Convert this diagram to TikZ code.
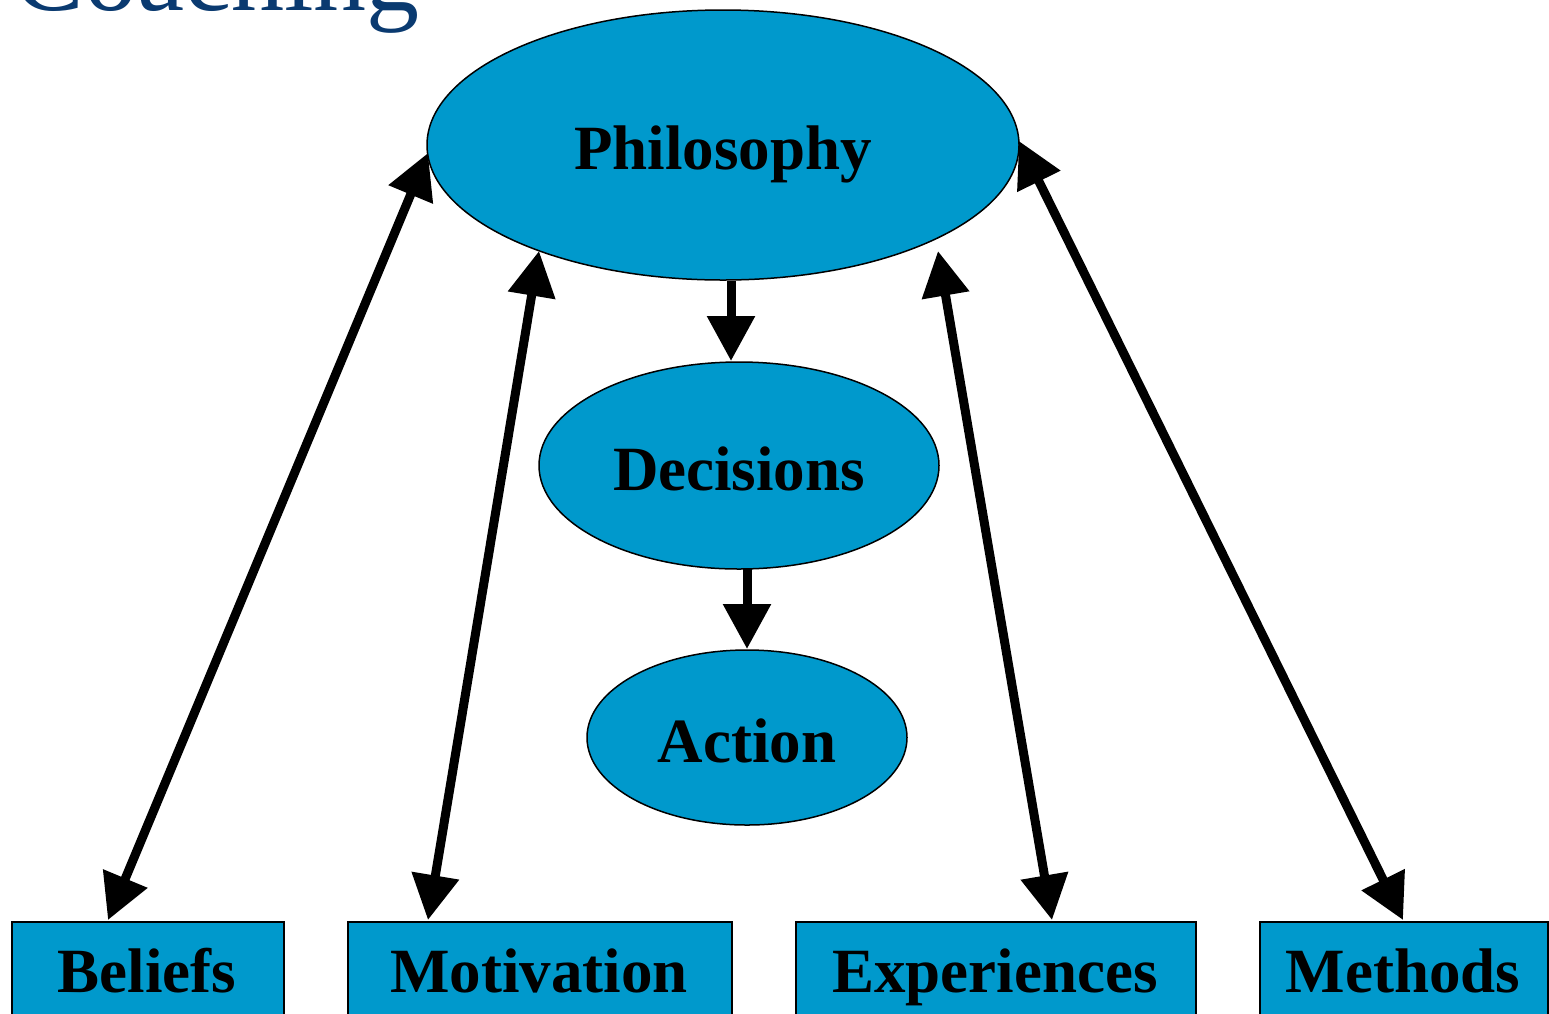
\documentclass[tikz,border=0pt]{standalone}
\usepackage{fontspec}
\setmainfont{Liberation Serif}
\usetikzlibrary{arrows.meta,shapes.geometric}
\definecolor{fillblue}{RGB}{0,153,204}
\definecolor{titleblue}{RGB}{10,58,112}
\tikzset{
  ell/.style={ellipse, draw=black, line width=1.5pt, fill=fillblue, inner sep=0pt},
  lbl/.style={font=\fontsize{63}{70}\selectfont\bfseries},
  boxnode/.style={rectangle, draw=black, line width=1.5pt, fill=fillblue, inner sep=0pt},
  conn/.style={line width=9pt, -{Triangle[length=45pt,width=46pt]}},
  bconn/.style={line width=9pt, {Triangle[length=45pt,width=46pt]}-{Triangle[length=45pt,width=46pt]}},
}
\begin{document}
\begin{tikzpicture}[x=1pt,y=-1pt]
\useasboundingbox (0,0) rectangle (1549,1013);
\clip (0,0) rectangle (1549,1013);
\fill[white] (0,0) rectangle (1549,1013);
% title (cut off at the top edge, as in the reference)
\node[anchor=base east, text=titleblue, font=\fontsize{106}{110}\selectfont, inner sep=0pt] (title) at (420,10) {Coaching};
% ellipses
\node[ell, minimum width=592pt, minimum height=270pt] (phil) at (723,145) {};
\node[lbl] at (723,154) {Philosophy};
\node[ell, minimum width=400pt, minimum height=207pt] (dec) at (739,465.5) {};
\node[lbl] at (739,469) {Decisions};
\node[ell, minimum width=320pt, minimum height=175pt] (act) at (747,737.5) {};
\node[lbl] at (747,741) {Action};
% boxes
\node[boxnode, minimum width=272pt, minimum height=120pt, anchor=north west] (bel) at (11,921) {};
\node[lbl, anchor=base] at (147,992) {Beliefs};
\node[boxnode, minimum width=384pt, minimum height=120pt, anchor=north west] (mot) at (347,921) {};
\node[lbl, anchor=base] at (539,992) {Motivation};
\node[boxnode, minimum width=400pt, minimum height=120pt, anchor=north west] (exp) at (795,921) {};
\node[lbl, anchor=base] at (995,992) {Experiences};
\node[boxnode, minimum width=288pt, minimum height=120pt, anchor=north west] (met) at (1259,921) {};
\node[lbl, anchor=base] at (1403,992) {Methods};
% connector endpoints
\coordinate (p1) at (428,153);
\coordinate (p2) at (539,251);
\coordinate (p3) at (938,251);
\coordinate (p4) at (1019,141);
\coordinate (b1) at (108,920);
\coordinate (m1) at (428,920);
\coordinate (e1) at (1052,920);
\coordinate (t1) at (1403,920);
\coordinate (pd) at (731,281);
\coordinate (dt) at (731,361);
\coordinate (da) at (747,569);
\coordinate (at) at (747,649);
\draw[conn] (pd) -- (dt);
\draw[conn] (da) -- (at);
\draw[bconn] (b1) -- (p1);
\draw[bconn] (m1) -- (p2);
\draw[bconn] (e1) -- (p3);
\draw[bconn] (t1) -- (p4);
\end{tikzpicture}
\end{document}
